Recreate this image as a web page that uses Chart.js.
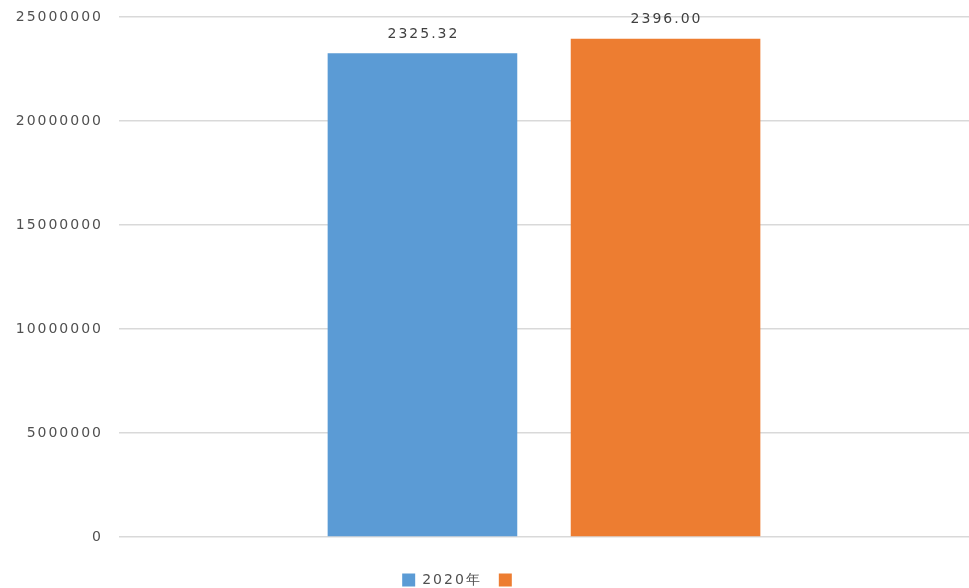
<!DOCTYPE html>
<html>
<head>
<meta charset="utf-8">
<script src="https://cdn.jsdelivr.net/npm/chart.js@4/dist/chart.umd.min.js"></script>
<style>
  html, body { margin: 0; padding: 0; background: #fff; }
  #wrap { width: 969px; height: 588px; }
</style>
</head>
<body>
<div id="wrap"><canvas id="barChart"></canvas></div>
<script>
// Chart data
const categories = [""];
const seriesNames = ["2020年", ""];
const seriesValues = [[23253200], [23960000]];
const seriesColors = ["#5B9BD5", "#ED7D31"];
const yTicks = [0, 5000000, 10000000, 15000000, 20000000, 25000000];

const FONT = "'DejaVu Sans', Verdana, sans-serif";

// Wide letter spacing like the original picture
const spacingPlugin = {
  id: "spacing",
  beforeUpdate(chart) { chart.ctx.letterSpacing = "2px"; },
  beforeDraw(chart) { chart.ctx.letterSpacing = "2px"; }
};

// Move the legend into the spot it has in the original
const legendShift = {
  id: "legendShift",
  afterLayout(chart) {
    const l = chart.legend;
    l.left -= 24; l.right -= 24;
    l.top += 19; l.bottom += 19;
  }
};

// Value labels over the bars (shown in units of 10 000)
const valueLabels = {
  id: "valueLabels",
  afterDatasetsDraw(chart) {
    const ctx = chart.ctx;
    ctx.save();
    ctx.font = "14px " + FONT;
    ctx.fillStyle = "#404040";
    ctx.textAlign = "center";
    ctx.textBaseline = "middle";
    chart.data.datasets.forEach((ds, i) => {
      chart.getDatasetMeta(i).data.forEach((bar, j) => {
        ctx.fillText((ds.data[j] / 10000).toFixed(2), bar.x + 1, bar.y - 19);
      });
    });
    ctx.restore();
  }
};

new Chart(document.getElementById("barChart"), {
  type: "bar",
  data: {
    labels: categories,
    datasets: seriesNames.map((name, i) => ({
      label: name,
      data: seriesValues[i],
      backgroundColor: seriesColors[i],
      categoryPercentage: 0.572,
      barPercentage: 0.78
    }))
  },
  options: {
    responsive: true,
    maintainAspectRatio: false,
    animation: false,
    layout: { padding: { top: 17, right: 0, bottom: 10, left: 0 } },
    scales: {
      x: { display: false },
      y: {
        min: 0,
        max: 25000000,
        afterBuildTicks(scale) { scale.ticks = yTicks.map(v => ({ value: v })); },
        afterFit(scale) {
          scale.width = 119;
          scale.paddingTop = 0;
          scale.paddingBottom = 0;
        },
        border: { display: false },
        grid: { color: "#d9d9d9", lineWidth: 1.5, drawTicks: false },
        ticks: {
          padding: 16,
          color: "#505050",
          font: { family: FONT, size: 14 },
          callback: v => String(v)
        }
      }
    },
    plugins: {
      legend: {
        position: "bottom",
        labels: {
          boxWidth: 13,
          boxHeight: 13,
          padding: 17,
          color: "#505050",
          font: { family: FONT, size: 14 }
        }
      },
      tooltip: { enabled: false }
    }
  },
  plugins: [spacingPlugin, legendShift, valueLabels]
});
</script>
</body>
</html>
